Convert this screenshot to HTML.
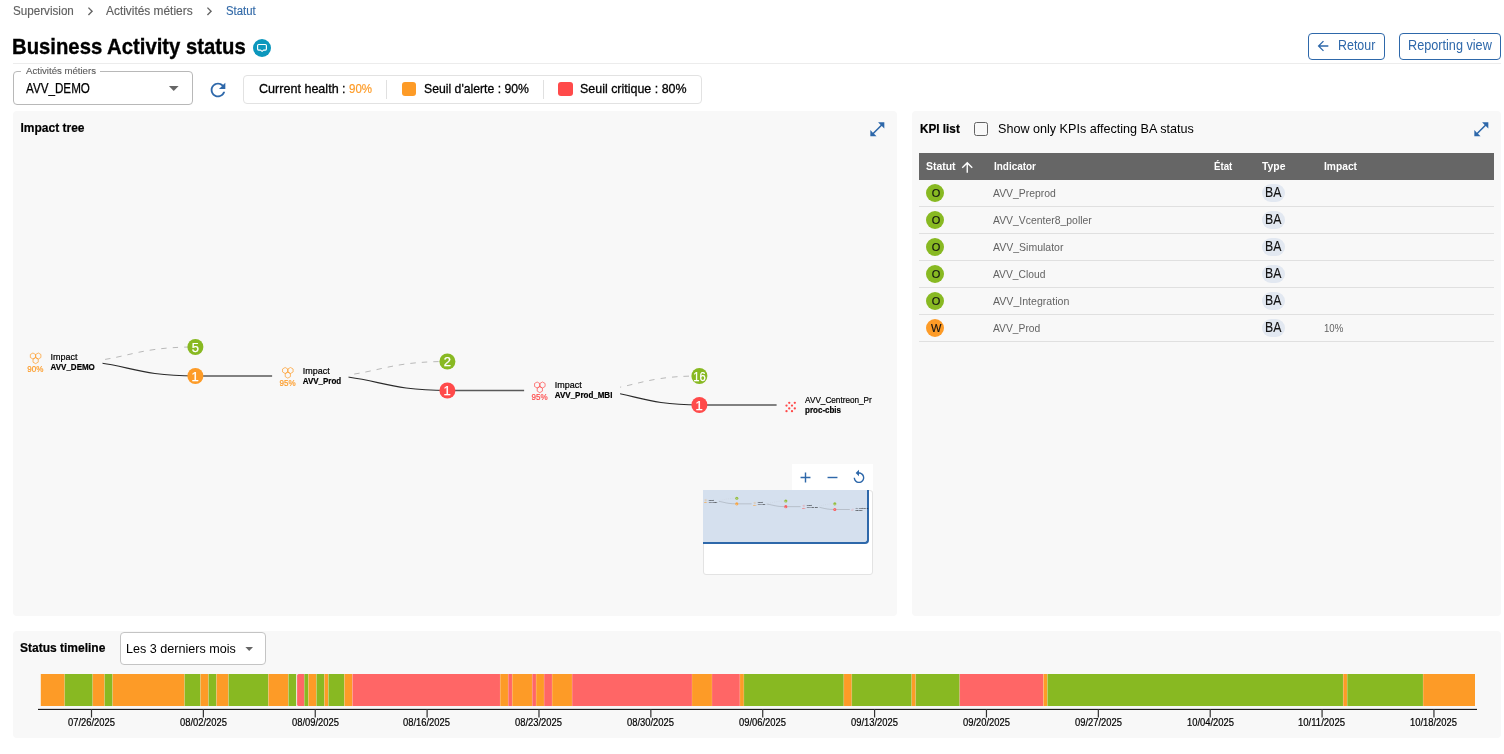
<!DOCTYPE html>
<html lang="fr"><head><meta charset="utf-8"><title>Business Activity status</title>
<style>
html,body{margin:0;padding:0;background:#fff}
body{width:1504px;height:754px;position:relative;overflow:hidden;font-family:"Liberation Sans",Arial,sans-serif}
.b{position:absolute;display:block}
.t{position:absolute;white-space:nowrap;display:block;transform-origin:0 0}
.mini .n{opacity:.55;stroke:none}
.tree text{font-family:"Liberation Sans",Arial,sans-serif}
</style></head>
<body>
<nav aria-label="breadcrumb">
<svg class="b" style="left:81.6px;top:2.6px" width="16.6" height="16.6" viewBox="0 0 24 24"><path d="M10 6L8.59 7.41 13.17 12l-4.58 4.59L10 18l6-6z" fill="#666" /></svg>
<svg class="b" style="left:201.1px;top:2.6px" width="16.6" height="16.6" viewBox="0 0 24 24"><path d="M10 6L8.59 7.41 13.17 12l-4.58 4.59L10 18l6-6z" fill="#666" /></svg>
<span class="t" style="left:13.00px;top:4px;font-size:12px;line-height:14px;color:#606060;transform:scaleX(0.9705);-webkit-text-stroke:0.15px #606060;">Supervision</span>
<span class="t" style="left:106.30px;top:4px;font-size:12px;line-height:14px;color:#606060;transform:scaleX(0.9913);-webkit-text-stroke:0.15px #606060;">Activités métiers</span>
<span class="t" style="left:225.80px;top:4px;font-size:12px;line-height:14px;color:#336aa8;transform:scaleX(0.9461);-webkit-text-stroke:0.15px #336aa8;">Statut</span>
</nav>
<header>
<div class="b" style="left:13px;top:63px;width:1488px;height:1px;background:#ececec"></div>
<div class="b" style="left:1308px;top:33px;width:77px;height:27px;border:1px solid #2e68aa;border-radius:4px;box-sizing:border-box"></div>
<div class="b" style="left:1399px;top:33px;width:102px;height:27px;border:1px solid #2e68aa;border-radius:4px;box-sizing:border-box"></div>
<svg class="b" style="left:253px;top:39px" width="18" height="18" viewBox="0 0 18 18"><circle cx="9" cy="9" r="9" fill="#0c97bd"/><path d="M5.6 5.5h6.8a1 1 0 0 1 1 1v3.6a1 1 0 0 1-1 1h-1.9L9.1 12.4 7.6 11.1H5.6a1 1 0 0 1-1-1V6.5a1 1 0 0 1 1-1z" fill="none" stroke="#fff" stroke-width="1.15" stroke-linejoin="round"/></svg>
<svg class="b" style="left:1315.1px;top:38.1px" width="16" height="16" viewBox="0 0 24 24"><path d="M20 11H7.83l5.59-5.59L12 4l-8 8 8 8 1.41-1.41L7.83 13H20v-2z" fill="#2e68aa" /></svg>
<span class="t" style="left:12.28px;top:34px;font-size:22px;line-height:25px;font-weight:700;transform:scaleX(0.9220);-webkit-text-stroke:0.35px #000;">Business Activity status</span>
<span class="t" style="left:1338.41px;top:37px;font-size:14px;line-height:16px;color:#2e68aa;transform:scaleX(0.8871);">Retour</span>
<span class="t" style="left:1407.90px;top:37px;font-size:14px;line-height:16px;color:#2e68aa;transform:scaleX(0.9049);">Reporting view</span>
</header>
<div class="toolbar">
<div class="b" style="left:13px;top:71px;width:180px;height:34px;border:1px solid #b8b8b8;border-radius:4px;box-sizing:border-box;background:#fff"></div>
<div class="b" style="left:21px;top:70px;width:79px;height:3px;background:#fff"></div>
<div class="b" style="left:243px;top:75px;width:459px;height:29px;border:1px solid #e2e2e2;border-radius:4px;box-sizing:border-box;background:#fff"></div>
<div class="b" style="left:386px;top:80px;width:1px;height:19px;background:#e0e0e0"></div>
<div class="b" style="left:543px;top:80px;width:1px;height:19px;background:#e0e0e0"></div>
<div class="b" style="left:402px;top:82px;width:14px;height:14px;background:#fd9b27;border-radius:3px"></div>
<div class="b" style="left:558px;top:82px;width:15px;height:14px;background:#ff4a4a;border-radius:3px"></div>
<svg class="b" style="left:168px;top:85px" width="12" height="8" viewBox="0 0 12 8"><path d="M0.9 1.1h9.7L5.75 5.9z" fill="#666"/></svg>
<svg class="b" style="left:206.9px;top:78.5px" width="22" height="22" viewBox="0 0 24 24"><path d="M17.65 6.35C16.2 4.9 14.21 4 12 4c-4.42 0-7.99 3.58-7.99 8s3.57 8 7.99 8c3.73 0 6.84-2.55 7.73-6h-2.08c-.82 2.33-3.04 4-5.65 4-3.31 0-6-2.69-6-6s2.69-6 6-6c1.66 0 3.14.69 4.22 1.78L13 11h7V4z" fill="#2e68aa" /></svg>
<span class="t" style="left:25.80px;top:65px;font-size:9.75px;line-height:11px;color:#5c5c5c;transform:scaleX(0.9858);-webkit-text-stroke:0.12px #5c5c5c;">Activités métiers</span>
<span class="t" style="left:25.80px;top:80px;font-size:14px;line-height:16px;transform:scaleX(0.8325);-webkit-text-stroke:0.25px #000;">AVV_DEMO</span>
<span class="t" style="left:258.80px;top:81px;font-size:13.6px;line-height:15px;transform:scaleX(0.9244);-webkit-text-stroke:0.3px currentColor;">Current health :</span>
<span class="t" style="left:348.50px;top:81px;font-size:13.6px;line-height:15px;color:#fd9b27;transform:scaleX(0.8477);-webkit-text-stroke:0.2px currentColor;">90%</span>
<span class="t" style="left:423.60px;top:81px;font-size:13.6px;line-height:15px;transform:scaleX(0.8995);-webkit-text-stroke:0.3px currentColor;">Seuil d&#x27;alerte : 90%</span>
<span class="t" style="left:580.30px;top:81px;font-size:13.6px;line-height:15px;transform:scaleX(0.9158);-webkit-text-stroke:0.3px currentColor;">Seuil critique : 80%</span>
</div>
<section aria-label="Impact tree">
<div class="b" style="left:13px;top:111px;width:884px;height:505px;background:#f8f8f8;border-radius:4px"></div>
<svg class="b" style="left:867.6px;top:119.65px" width="18.67" height="18.67" viewBox="0 0 24 24"><path d="M21 11V3h-8l3.29 3.29-10 10L3 13v8h8l-3.29-3.29 10-10z" fill="#2e68aa" /></svg>
<div class="b" style="left:792px;top:464px;width:81px;height:26.5px;background:#fff"></div>
<svg class="b" style="left:796.5px;top:468.5px" width="17" height="17" viewBox="0 0 24 24"><path d="M19 13h-6v6h-2v-6H5v-2h6V5h2v6h6v2z" fill="#2e68aa" /></svg>
<svg class="b" style="left:823.5px;top:468.5px" width="17" height="17" viewBox="0 0 24 24"><path d="M19 13H5v-2h14v2z" fill="#2e68aa" /></svg>
<svg class="b" style="left:851.4px;top:469.3px" width="16" height="16" viewBox="0 0 24 24"><path d="M12 5V1L7 6l5 5V7c3.31 0 6 2.69 6 6s-2.69 6-6 6-6-2.69-6-6H4c0 4.42 3.58 8 8 8s8-3.58 8-8-3.58-8-8-8z" fill="#2e68aa" /></svg>
<svg class="b tree" style="left:0;top:0" width="872.8" height="616" viewBox="0 0 872.8 616"><path d="M59.0 362.7C127.2 362.7 127.2 347.0 195.4 347.0" fill="none" stroke="#b9b9b9" stroke-width="1" stroke-dasharray="5.5 6"/><path d="M59.0 360.3C127.2 360.3 127.2 376.0 195.4 376.0" fill="none" stroke="#2a2a2a" stroke-width="1.1"/><rect x="20.0" y="349.0" width="82.5" height="26" fill="#f8f8f8"/><path d="M202.4 376.0H272.6" stroke="#5a5a5a" stroke-width="1.5"/><path d="M32.95 353.00L35.55 354.50L35.55 357.50L32.95 359.00L30.35 357.50L30.35 354.50Z" fill="none" stroke="#fd9b27" stroke-width="0.7"/><path d="M38.30 353.00L40.90 354.50L40.90 357.50L38.30 359.00L35.70 357.50L35.70 354.50Z" fill="none" stroke="#fd9b27" stroke-width="0.7"/><path d="M35.62 357.65L38.22 359.15L38.22 362.15L35.62 363.65L33.02 362.15L33.02 359.15Z" fill="none" stroke="#fd9b27" stroke-width="0.7"/><text transform="translate(27.30 371.80) scale(0.8050 0.93)" font-size="10" fill="#fd9b27" stroke="#fd9b27" stroke-width="0.22">90%</text><text transform="translate(50.60 359.90) scale(0.8995 0.93)" font-size="10" fill="#000" stroke="#000" stroke-width="0.22">Impact</text><text transform="translate(50.60 369.80) scale(0.8002 0.93)" font-size="10" font-weight="700" fill="#000" stroke="#000" stroke-width="0.22">AVV_DEMO</text><circle cx="195.4" cy="347.0" r="8" fill="#88b922"/><circle cx="195.4" cy="376.0" r="8" fill="#fd9b27"/><text x="195.4" y="351.6" class="n" font-size="13" fill="#fff" stroke="#fff" stroke-width="0.25" text-anchor="middle">5</text><text x="195.0" y="380.6" class="n" font-size="13" fill="#fff" stroke="#fff" stroke-width="0.25" text-anchor="middle">1</text><path d="M308.1 377.2C377.8 377.2 377.8 361.5 447.4 361.5" fill="none" stroke="#b9b9b9" stroke-width="1" stroke-dasharray="5.5 6"/><path d="M308.1 374.8C377.8 374.8 377.8 390.5 447.4 390.5" fill="none" stroke="#2a2a2a" stroke-width="1.1"/><rect x="272.2" y="363.5" width="76.3" height="26" fill="#f8f8f8"/><path d="M454.4 390.5H524.6" stroke="#5a5a5a" stroke-width="1.5"/><path d="M285.15 367.50L287.75 369.00L287.75 372.00L285.15 373.50L282.55 372.00L282.55 369.00Z" fill="none" stroke="#fd9b27" stroke-width="0.7"/><path d="M290.50 367.50L293.10 369.00L293.10 372.00L290.50 373.50L287.90 372.00L287.90 369.00Z" fill="none" stroke="#fd9b27" stroke-width="0.7"/><path d="M287.82 372.15L290.42 373.65L290.42 376.65L287.82 378.15L285.22 376.65L285.22 373.65Z" fill="none" stroke="#fd9b27" stroke-width="0.7"/><text transform="translate(279.50 385.90) scale(0.8050 0.93)" font-size="10" fill="#fd9b27" stroke="#fd9b27" stroke-width="0.22">95%</text><text transform="translate(302.80 374.00) scale(0.8995 0.93)" font-size="10" fill="#000" stroke="#000" stroke-width="0.22">Impact</text><text transform="translate(302.80 383.90) scale(0.7969 0.93)" font-size="10" font-weight="700" fill="#000" stroke="#000" stroke-width="0.22">AVV_Prod</text><circle cx="447.4" cy="361.5" r="8" fill="#88b922"/><circle cx="447.4" cy="390.5" r="8" fill="#ff4a4a"/><text x="447.4" y="366.1" class="n" font-size="13" fill="#fff" stroke="#fff" stroke-width="0.25" text-anchor="middle">2</text><text x="447.0" y="395.1" class="n" font-size="13" fill="#fff" stroke="#fff" stroke-width="0.25" text-anchor="middle">1</text><path d="M569.9 391.7C634.7 391.7 634.7 376.0 699.4 376.0" fill="none" stroke="#b9b9b9" stroke-width="1" stroke-dasharray="5.5 6"/><path d="M569.9 389.3C634.7 389.3 634.7 405.0 699.4 405.0" fill="none" stroke="#2a2a2a" stroke-width="1.1"/><rect x="524.2" y="378.0" width="95.9" height="26" fill="#f8f8f8"/><path d="M706.4 405.0H776.6" stroke="#5a5a5a" stroke-width="1.5"/><path d="M537.15 382.00L539.75 383.50L539.75 386.50L537.15 388.00L534.55 386.50L534.55 383.50Z" fill="none" stroke="#ff4a4a" stroke-width="0.7"/><path d="M542.50 382.00L545.10 383.50L545.10 386.50L542.50 388.00L539.90 386.50L539.90 383.50Z" fill="none" stroke="#ff4a4a" stroke-width="0.7"/><path d="M539.82 386.65L542.42 388.15L542.42 391.15L539.82 392.65L537.22 391.15L537.22 388.15Z" fill="none" stroke="#ff4a4a" stroke-width="0.7"/><text transform="translate(531.50 400.00) scale(0.8050 0.93)" font-size="10" fill="#ff4a4a" stroke="#ff4a4a" stroke-width="0.22">95%</text><text transform="translate(554.80 388.10) scale(0.8995 0.93)" font-size="10" fill="#000" stroke="#000" stroke-width="0.22">Impact</text><text transform="translate(554.80 398.00) scale(0.8010 0.93)" font-size="10" font-weight="700" fill="#000" stroke="#000" stroke-width="0.22">AVV_Prod_MBI</text><circle cx="699.4" cy="376.0" r="8" fill="#88b922"/><circle cx="699.4" cy="405.0" r="8" fill="#ff4a4a"/><text x="699.4" y="380.6" class="n" font-size="13" fill="#fff" stroke="#fff" stroke-width="0.25" text-anchor="middle" textLength="12.4" lengthAdjust="spacingAndGlyphs">16</text><text x="699.0" y="409.6" class="n" font-size="13" fill="#fff" stroke="#fff" stroke-width="0.25" text-anchor="middle">1</text><circle cx="789.25" cy="402.8" r="1.15" fill="#ff4a4a"/><circle cx="794.8" cy="402.8" r="1.15" fill="#ff4a4a"/><circle cx="786.5" cy="405.6" r="1.15" fill="#ff4a4a"/><circle cx="792.0" cy="405.6" r="1.15" fill="#ff4a4a"/><circle cx="789.25" cy="408.4" r="1.15" fill="#ff4a4a"/><circle cx="794.8" cy="408.4" r="1.15" fill="#ff4a4a"/><circle cx="786.5" cy="411.2" r="1.15" fill="#ff4a4a"/><circle cx="792.0" cy="411.2" r="1.15" fill="#ff4a4a"/><text transform="translate(805.10 402.60) scale(0.8187 0.93)" font-size="10" fill="#000" stroke="#000" stroke-width="0.22">AVV_Centreon_Pr</text><text transform="translate(805.10 413.00) scale(0.7986 0.93)" font-size="10" font-weight="700" fill="#000" stroke="#000" stroke-width="0.22">proc-cbis</text></svg>
<div class="b" style="left:702.5px;top:490px;width:170px;height:85.4px;background:#fff;border:1px solid #e3e3e3;border-radius:3px;box-sizing:border-box"></div>
<div class="b" style="left:702.5px;top:490px;width:166.5px;height:53.7px;background:#d5e0ee;border-right:2px solid #2e68aa;border-bottom:2px solid #2e68aa;border-radius:0 0 4px 0;box-sizing:border-box"></div>
<svg class="b tree mini" style="left:702.6px;top:490.2px;opacity:.85" width="166" height="52" viewBox="21.6 304.8 853.5 267.4"><path d="M59.0 362.7C127.2 362.7 127.2 347.0 195.4 347.0" fill="none" stroke="#b9b9b9" stroke-width="1" stroke-dasharray="5.5 6"/><path d="M59.0 360.3C127.2 360.3 127.2 376.0 195.4 376.0" fill="none" stroke="#2a2a2a" stroke-width="1.1"/><rect x="20.0" y="349.0" width="82.5" height="26" fill="#d5e0ee"/><path d="M202.4 376.0H272.6" stroke="#5a5a5a" stroke-width="1.5"/><path d="M32.95 353.00L35.55 354.50L35.55 357.50L32.95 359.00L30.35 357.50L30.35 354.50Z" fill="none" stroke="#fd9b27" stroke-width="0.7"/><path d="M38.30 353.00L40.90 354.50L40.90 357.50L38.30 359.00L35.70 357.50L35.70 354.50Z" fill="none" stroke="#fd9b27" stroke-width="0.7"/><path d="M35.62 357.65L38.22 359.15L38.22 362.15L35.62 363.65L33.02 362.15L33.02 359.15Z" fill="none" stroke="#fd9b27" stroke-width="0.7"/><text transform="translate(27.30 371.80) scale(0.8050 0.93)" font-size="10" fill="#fd9b27" stroke="#fd9b27" stroke-width="0.22">90%</text><text transform="translate(50.60 359.90) scale(0.8995 0.93)" font-size="10" fill="#000" stroke="#000" stroke-width="0.22">Impact</text><text transform="translate(50.60 369.80) scale(0.8002 0.93)" font-size="10" font-weight="700" fill="#000" stroke="#000" stroke-width="0.22">AVV_DEMO</text><circle cx="195.4" cy="347.0" r="8" fill="#88b922"/><circle cx="195.4" cy="376.0" r="8" fill="#fd9b27"/><text x="195.4" y="351.6" class="n" font-size="13" fill="#fff" stroke="#fff" stroke-width="0.25" text-anchor="middle">5</text><text x="195.0" y="380.6" class="n" font-size="13" fill="#fff" stroke="#fff" stroke-width="0.25" text-anchor="middle">1</text><path d="M308.1 377.2C377.8 377.2 377.8 361.5 447.4 361.5" fill="none" stroke="#b9b9b9" stroke-width="1" stroke-dasharray="5.5 6"/><path d="M308.1 374.8C377.8 374.8 377.8 390.5 447.4 390.5" fill="none" stroke="#2a2a2a" stroke-width="1.1"/><rect x="272.2" y="363.5" width="76.3" height="26" fill="#d5e0ee"/><path d="M454.4 390.5H524.6" stroke="#5a5a5a" stroke-width="1.5"/><path d="M285.15 367.50L287.75 369.00L287.75 372.00L285.15 373.50L282.55 372.00L282.55 369.00Z" fill="none" stroke="#fd9b27" stroke-width="0.7"/><path d="M290.50 367.50L293.10 369.00L293.10 372.00L290.50 373.50L287.90 372.00L287.90 369.00Z" fill="none" stroke="#fd9b27" stroke-width="0.7"/><path d="M287.82 372.15L290.42 373.65L290.42 376.65L287.82 378.15L285.22 376.65L285.22 373.65Z" fill="none" stroke="#fd9b27" stroke-width="0.7"/><text transform="translate(279.50 385.90) scale(0.8050 0.93)" font-size="10" fill="#fd9b27" stroke="#fd9b27" stroke-width="0.22">95%</text><text transform="translate(302.80 374.00) scale(0.8995 0.93)" font-size="10" fill="#000" stroke="#000" stroke-width="0.22">Impact</text><text transform="translate(302.80 383.90) scale(0.7969 0.93)" font-size="10" font-weight="700" fill="#000" stroke="#000" stroke-width="0.22">AVV_Prod</text><circle cx="447.4" cy="361.5" r="8" fill="#88b922"/><circle cx="447.4" cy="390.5" r="8" fill="#ff4a4a"/><text x="447.4" y="366.1" class="n" font-size="13" fill="#fff" stroke="#fff" stroke-width="0.25" text-anchor="middle">2</text><text x="447.0" y="395.1" class="n" font-size="13" fill="#fff" stroke="#fff" stroke-width="0.25" text-anchor="middle">1</text><path d="M569.9 391.7C634.7 391.7 634.7 376.0 699.4 376.0" fill="none" stroke="#b9b9b9" stroke-width="1" stroke-dasharray="5.5 6"/><path d="M569.9 389.3C634.7 389.3 634.7 405.0 699.4 405.0" fill="none" stroke="#2a2a2a" stroke-width="1.1"/><rect x="524.2" y="378.0" width="95.9" height="26" fill="#d5e0ee"/><path d="M706.4 405.0H776.6" stroke="#5a5a5a" stroke-width="1.5"/><path d="M537.15 382.00L539.75 383.50L539.75 386.50L537.15 388.00L534.55 386.50L534.55 383.50Z" fill="none" stroke="#ff4a4a" stroke-width="0.7"/><path d="M542.50 382.00L545.10 383.50L545.10 386.50L542.50 388.00L539.90 386.50L539.90 383.50Z" fill="none" stroke="#ff4a4a" stroke-width="0.7"/><path d="M539.82 386.65L542.42 388.15L542.42 391.15L539.82 392.65L537.22 391.15L537.22 388.15Z" fill="none" stroke="#ff4a4a" stroke-width="0.7"/><text transform="translate(531.50 400.00) scale(0.8050 0.93)" font-size="10" fill="#ff4a4a" stroke="#ff4a4a" stroke-width="0.22">95%</text><text transform="translate(554.80 388.10) scale(0.8995 0.93)" font-size="10" fill="#000" stroke="#000" stroke-width="0.22">Impact</text><text transform="translate(554.80 398.00) scale(0.8010 0.93)" font-size="10" font-weight="700" fill="#000" stroke="#000" stroke-width="0.22">AVV_Prod_MBI</text><circle cx="699.4" cy="376.0" r="8" fill="#88b922"/><circle cx="699.4" cy="405.0" r="8" fill="#ff4a4a"/><text x="699.4" y="380.6" class="n" font-size="13" fill="#fff" stroke="#fff" stroke-width="0.25" text-anchor="middle" textLength="12.4" lengthAdjust="spacingAndGlyphs">16</text><text x="699.0" y="409.6" class="n" font-size="13" fill="#fff" stroke="#fff" stroke-width="0.25" text-anchor="middle">1</text><circle cx="789.25" cy="402.8" r="1.15" fill="#ff4a4a"/><circle cx="794.8" cy="402.8" r="1.15" fill="#ff4a4a"/><circle cx="786.5" cy="405.6" r="1.15" fill="#ff4a4a"/><circle cx="792.0" cy="405.6" r="1.15" fill="#ff4a4a"/><circle cx="789.25" cy="408.4" r="1.15" fill="#ff4a4a"/><circle cx="794.8" cy="408.4" r="1.15" fill="#ff4a4a"/><circle cx="786.5" cy="411.2" r="1.15" fill="#ff4a4a"/><circle cx="792.0" cy="411.2" r="1.15" fill="#ff4a4a"/><text transform="translate(805.10 402.60) scale(0.8187 0.93)" font-size="10" fill="#000" stroke="#000" stroke-width="0.22">AVV_Centreon_Pr</text><text transform="translate(805.10 413.00) scale(0.7986 0.93)" font-size="10" font-weight="700" fill="#000" stroke="#000" stroke-width="0.22">proc-cbis</text></svg>
<span class="t" style="left:20.50px;top:121px;font-size:12px;line-height:14px;font-weight:700;-webkit-text-stroke:0.2px #000;">Impact tree</span>
</section>
<section aria-label="KPI list">
<div class="b" style="left:912px;top:111px;width:589px;height:505px;background:#f8f8f8;border-radius:4px"></div>
<div class="b" style="left:974px;top:122px;width:14px;height:14px;border:1.7px solid #636363;border-radius:2.5px;box-sizing:border-box"></div>
<div class="b" style="left:919px;top:153px;width:575px;height:27px;background:#666"></div>
<div class="b" style="left:919px;top:206px;width:575px;height:1px;background:#e0e0e0"></div>
<div class="b" style="left:926px;top:184px;width:18px;height:18px;background:#88b922;border-radius:50%"></div>
<div class="b" style="left:1262px;top:184px;width:23.4px;height:18.4px;background:#e2e8f1;border-radius:9px"></div>
<div class="b" style="left:919px;top:233px;width:575px;height:1px;background:#e0e0e0"></div>
<div class="b" style="left:926px;top:211px;width:18px;height:18px;background:#88b922;border-radius:50%"></div>
<div class="b" style="left:1262px;top:211px;width:23.4px;height:18.4px;background:#e2e8f1;border-radius:9px"></div>
<div class="b" style="left:919px;top:260px;width:575px;height:1px;background:#e0e0e0"></div>
<div class="b" style="left:926px;top:238px;width:18px;height:18px;background:#88b922;border-radius:50%"></div>
<div class="b" style="left:1262px;top:238px;width:23.4px;height:18.4px;background:#e2e8f1;border-radius:9px"></div>
<div class="b" style="left:919px;top:287px;width:575px;height:1px;background:#e0e0e0"></div>
<div class="b" style="left:926px;top:265px;width:18px;height:18px;background:#88b922;border-radius:50%"></div>
<div class="b" style="left:1262px;top:265px;width:23.4px;height:18.4px;background:#e2e8f1;border-radius:9px"></div>
<div class="b" style="left:919px;top:314px;width:575px;height:1px;background:#e0e0e0"></div>
<div class="b" style="left:926px;top:292px;width:18px;height:18px;background:#88b922;border-radius:50%"></div>
<div class="b" style="left:1262px;top:292px;width:23.4px;height:18.4px;background:#e2e8f1;border-radius:9px"></div>
<div class="b" style="left:919px;top:341px;width:575px;height:1px;background:#e0e0e0"></div>
<div class="b" style="left:926px;top:319px;width:18px;height:18px;background:#fd9b27;border-radius:50%"></div>
<div class="b" style="left:1262px;top:319px;width:23.4px;height:18.4px;background:#e2e8f1;border-radius:9px"></div>
<svg class="b" style="left:1472.0px;top:119.65px" width="18.67" height="18.67" viewBox="0 0 24 24"><path d="M21 11V3h-8l3.29 3.29-10 10L3 13v8h8l-3.29-3.29 10-10z" fill="#2e68aa" /></svg>
<svg class="b" style="left:958.95px;top:159.4px" width="16.5" height="16.5" viewBox="0 0 24 24"><path d="M4 12l1.41 1.41L11 7.83V20h2V7.83l5.58 5.59L20 12l-8-8-8 8z" fill="#fff" /></svg>
<span class="t" style="left:919.60px;top:122px;font-size:12px;line-height:14px;font-weight:700;transform:scaleX(0.9781);-webkit-text-stroke:0.2px #000;">KPI list</span>
<span class="t" style="left:998.30px;top:121px;font-size:13px;line-height:15px;transform:scaleX(0.9689);">Show only KPIs affecting BA status</span>
<span class="t" style="left:925.90px;top:160px;font-size:11px;line-height:12px;font-weight:700;color:#fff;transform:scaleX(0.9489);">Statut</span>
<span class="t" style="left:993.50px;top:160px;font-size:11px;line-height:12px;font-weight:700;color:#fff;transform:scaleX(0.9031);">Indicator</span>
<span class="t" style="left:1214.30px;top:160px;font-size:11px;line-height:12px;font-weight:700;color:#fff;transform:scaleX(0.8808);">État</span>
<span class="t" style="left:1262.40px;top:160px;font-size:11px;line-height:12px;font-weight:700;color:#fff;transform:scaleX(0.9458);">Type</span>
<span class="t" style="left:1323.60px;top:160px;font-size:11px;line-height:12px;font-weight:700;color:#fff;transform:scaleX(0.9300);">Impact</span>
<span class="t" style="left:931.80px;top:187px;font-size:11px;line-height:12px;color:#111;-webkit-text-stroke:0.15px #111;">O</span>
<span class="t" style="left:993.30px;top:187px;font-size:11px;line-height:12px;color:#636363;transform:scaleX(0.9467);">AVV_Preprod</span>
<span class="t" style="left:1265.02px;top:184px;font-size:14px;line-height:16px;color:#111;transform:scaleX(0.8774);-webkit-text-stroke:0.12px #111;">BA</span>
<span class="t" style="left:931.80px;top:214px;font-size:11px;line-height:12px;color:#111;-webkit-text-stroke:0.15px #111;">O</span>
<span class="t" style="left:993.30px;top:214px;font-size:11px;line-height:12px;color:#636363;transform:scaleX(0.9464);">AVV_Vcenter8_poller</span>
<span class="t" style="left:1265.02px;top:211px;font-size:14px;line-height:16px;color:#111;transform:scaleX(0.8774);-webkit-text-stroke:0.12px #111;">BA</span>
<span class="t" style="left:931.80px;top:241px;font-size:11px;line-height:12px;color:#111;-webkit-text-stroke:0.15px #111;">O</span>
<span class="t" style="left:993.30px;top:241px;font-size:11px;line-height:12px;color:#636363;transform:scaleX(0.9552);">AVV_Simulator</span>
<span class="t" style="left:1265.02px;top:238px;font-size:14px;line-height:16px;color:#111;transform:scaleX(0.8774);-webkit-text-stroke:0.12px #111;">BA</span>
<span class="t" style="left:931.80px;top:268px;font-size:11px;line-height:12px;color:#111;-webkit-text-stroke:0.15px #111;">O</span>
<span class="t" style="left:993.30px;top:268px;font-size:11px;line-height:12px;color:#636363;transform:scaleX(0.9349);">AVV_Cloud</span>
<span class="t" style="left:1265.02px;top:265px;font-size:14px;line-height:16px;color:#111;transform:scaleX(0.8774);-webkit-text-stroke:0.12px #111;">BA</span>
<span class="t" style="left:931.80px;top:295px;font-size:11px;line-height:12px;color:#111;-webkit-text-stroke:0.15px #111;">O</span>
<span class="t" style="left:993.30px;top:295px;font-size:11px;line-height:12px;color:#636363;transform:scaleX(0.9624);">AVV_Integration</span>
<span class="t" style="left:1265.02px;top:292px;font-size:14px;line-height:16px;color:#111;transform:scaleX(0.8774);-webkit-text-stroke:0.12px #111;">BA</span>
<span class="t" style="left:930.90px;top:322px;font-size:11px;line-height:12px;color:#111;-webkit-text-stroke:0.15px #111;">W</span>
<span class="t" style="left:993.30px;top:322px;font-size:11px;line-height:12px;color:#636363;transform:scaleX(0.9357);">AVV_Prod</span>
<span class="t" style="left:1265.02px;top:319px;font-size:14px;line-height:16px;color:#111;transform:scaleX(0.8774);-webkit-text-stroke:0.12px #111;">BA</span>
<span class="t" style="left:1323.80px;top:322px;font-size:11px;line-height:12px;color:#636363;transform:scaleX(0.8764);">10%</span>
</section>
<section aria-label="Status timeline">
<div class="b" style="left:13px;top:631px;width:1488px;height:107px;background:#f8f8f8;border-radius:4px"></div>
<div class="b" style="left:120px;top:632px;width:146px;height:33px;border:1px solid #c4c4c4;border-radius:4px;box-sizing:border-box;background:#fff"></div>
<svg class="b" style="left:0;top:0" width="1504" height="754" viewBox="0 0 1504 754"><rect x="40.8" y="674" width="23.9" height="32" fill="#fd9b27"/><rect x="64.7" y="674" width="28.0" height="32" fill="#88b922"/><rect x="92.7" y="674" width="11.9" height="32" fill="#fd9b27"/><rect x="104.6" y="674" width="8.0" height="32" fill="#88b922"/><rect x="112.6" y="674" width="72.0" height="32" fill="#fd9b27"/><rect x="184.6" y="674" width="15.9" height="32" fill="#88b922"/><rect x="200.5" y="674" width="8.0" height="32" fill="#fd9b27"/><rect x="208.5" y="674" width="8.0" height="32" fill="#88b922"/><rect x="216.5" y="674" width="12.0" height="32" fill="#fd9b27"/><rect x="228.5" y="674" width="39.9" height="32" fill="#88b922"/><rect x="268.4" y="674" width="20.0" height="32" fill="#fd9b27"/><rect x="288.4" y="674" width="8.2" height="32" fill="#88b922"/><rect x="296.4" y="674" width="3" height="32" fill="#f8f8f8"/><rect x="297.1" y="674" width="7.2" height="32" rx="1.6" fill="#ff6666"/><rect x="299.6" y="674" width="4.7" height="32" fill="#ff6666"/><rect x="304.3" y="674" width="4.1" height="32" fill="#88b922"/><rect x="308.4" y="674" width="8.0" height="32" fill="#fd9b27"/><rect x="316.4" y="674" width="8.0" height="32" fill="#88b922"/><rect x="324.4" y="674" width="4.0" height="32" fill="#fd9b27"/><rect x="328.4" y="674" width="16.0" height="32" fill="#88b922"/><rect x="344.4" y="674" width="8.0" height="32" fill="#fd9b27"/><rect x="352.4" y="674" width="147.8" height="32" fill="#ff6666"/><rect x="500.2" y="674" width="8.0" height="32" fill="#fd9b27"/><rect x="508.2" y="674" width="4.0" height="32" fill="#ff6666"/><rect x="512.2" y="674" width="20.0" height="32" fill="#fd9b27"/><rect x="532.2" y="674" width="3.9" height="32" fill="#ff6666"/><rect x="536.1" y="674" width="8.0" height="32" fill="#fd9b27"/><rect x="544.1" y="674" width="8.0" height="32" fill="#ff6666"/><rect x="552.1" y="674" width="20.0" height="32" fill="#fd9b27"/><rect x="572.1" y="674" width="119.9" height="32" fill="#ff6666"/><rect x="692.0" y="674" width="20.0" height="32" fill="#fd9b27"/><rect x="712.0" y="674" width="27.9" height="32" fill="#ff6666"/><rect x="739.9" y="674" width="4.0" height="32" fill="#fd9b27"/><rect x="743.9" y="674" width="99.9" height="32" fill="#88b922"/><rect x="843.8" y="674" width="8.0" height="32" fill="#fd9b27"/><rect x="851.8" y="674" width="59.9" height="32" fill="#88b922"/><rect x="911.7" y="674" width="4.0" height="32" fill="#fd9b27"/><rect x="915.7" y="674" width="44.0" height="32" fill="#88b922"/><rect x="959.7" y="674" width="83.7" height="32" fill="#ff6666"/><rect x="1043.4" y="674" width="4.0" height="32" fill="#fd9b27"/><rect x="1047.4" y="674" width="295.8" height="32" fill="#88b922"/><rect x="1343.2" y="674" width="4.0" height="32" fill="#fd9b27"/><rect x="1347.2" y="674" width="75.9" height="32" fill="#88b922"/><rect x="1423.1" y="674" width="51.9" height="32" fill="#fd9b27"/><rect x="64.35" y="674" width="0.7" height="32" fill="#fff" fill-opacity="0.22"/><rect x="92.35" y="674" width="0.7" height="32" fill="#fff" fill-opacity="0.22"/><rect x="104.25" y="674" width="0.7" height="32" fill="#fff" fill-opacity="0.22"/><rect x="112.25" y="674" width="0.7" height="32" fill="#fff" fill-opacity="0.22"/><rect x="184.25" y="674" width="0.7" height="32" fill="#fff" fill-opacity="0.22"/><rect x="200.15" y="674" width="0.7" height="32" fill="#fff" fill-opacity="0.22"/><rect x="208.15" y="674" width="0.7" height="32" fill="#fff" fill-opacity="0.22"/><rect x="216.15" y="674" width="0.7" height="32" fill="#fff" fill-opacity="0.22"/><rect x="228.15" y="674" width="0.7" height="32" fill="#fff" fill-opacity="0.22"/><rect x="268.05" y="674" width="0.7" height="32" fill="#fff" fill-opacity="0.22"/><rect x="288.05" y="674" width="0.7" height="32" fill="#fff" fill-opacity="0.22"/><rect x="296.25" y="674" width="0.7" height="32" fill="#fff" fill-opacity="0.22"/><rect x="303.95" y="674" width="0.7" height="32" fill="#fff" fill-opacity="0.22"/><rect x="308.05" y="674" width="0.7" height="32" fill="#fff" fill-opacity="0.22"/><rect x="316.05" y="674" width="0.7" height="32" fill="#fff" fill-opacity="0.22"/><rect x="324.05" y="674" width="0.7" height="32" fill="#fff" fill-opacity="0.22"/><rect x="328.05" y="674" width="0.7" height="32" fill="#fff" fill-opacity="0.22"/><rect x="344.05" y="674" width="0.7" height="32" fill="#fff" fill-opacity="0.22"/><rect x="352.05" y="674" width="0.7" height="32" fill="#fff" fill-opacity="0.22"/><rect x="499.85" y="674" width="0.7" height="32" fill="#fff" fill-opacity="0.22"/><rect x="507.85" y="674" width="0.7" height="32" fill="#fff" fill-opacity="0.22"/><rect x="511.85" y="674" width="0.7" height="32" fill="#fff" fill-opacity="0.22"/><rect x="531.85" y="674" width="0.7" height="32" fill="#fff" fill-opacity="0.22"/><rect x="535.75" y="674" width="0.7" height="32" fill="#fff" fill-opacity="0.22"/><rect x="543.75" y="674" width="0.7" height="32" fill="#fff" fill-opacity="0.22"/><rect x="551.75" y="674" width="0.7" height="32" fill="#fff" fill-opacity="0.22"/><rect x="571.75" y="674" width="0.7" height="32" fill="#fff" fill-opacity="0.22"/><rect x="691.65" y="674" width="0.7" height="32" fill="#fff" fill-opacity="0.22"/><rect x="711.65" y="674" width="0.7" height="32" fill="#fff" fill-opacity="0.22"/><rect x="739.55" y="674" width="0.7" height="32" fill="#fff" fill-opacity="0.22"/><rect x="743.55" y="674" width="0.7" height="32" fill="#fff" fill-opacity="0.22"/><rect x="843.45" y="674" width="0.7" height="32" fill="#fff" fill-opacity="0.22"/><rect x="851.45" y="674" width="0.7" height="32" fill="#fff" fill-opacity="0.22"/><rect x="911.35" y="674" width="0.7" height="32" fill="#fff" fill-opacity="0.22"/><rect x="915.35" y="674" width="0.7" height="32" fill="#fff" fill-opacity="0.22"/><rect x="959.35" y="674" width="0.7" height="32" fill="#fff" fill-opacity="0.22"/><rect x="1043.05" y="674" width="0.7" height="32" fill="#fff" fill-opacity="0.22"/><rect x="1047.05" y="674" width="0.7" height="32" fill="#fff" fill-opacity="0.22"/><rect x="1342.85" y="674" width="0.7" height="32" fill="#fff" fill-opacity="0.22"/><rect x="1346.85" y="674" width="0.7" height="32" fill="#fff" fill-opacity="0.22"/><rect x="1422.75" y="674" width="0.7" height="32" fill="#fff" fill-opacity="0.22"/><rect x="38" y="708.85" width="1439" height="1.15" fill="#1c1c1c"/><rect x="90.90" y="709" width="1.2" height="8.5" fill="#333"/><rect x="202.77" y="709" width="1.2" height="8.5" fill="#333"/><rect x="314.64" y="709" width="1.2" height="8.5" fill="#333"/><rect x="426.51" y="709" width="1.2" height="8.5" fill="#333"/><rect x="538.38" y="709" width="1.2" height="8.5" fill="#333"/><rect x="650.25" y="709" width="1.2" height="8.5" fill="#333"/><rect x="762.12" y="709" width="1.2" height="8.5" fill="#333"/><rect x="873.99" y="709" width="1.2" height="8.5" fill="#333"/><rect x="985.86" y="709" width="1.2" height="8.5" fill="#333"/><rect x="1097.73" y="709" width="1.2" height="8.5" fill="#333"/><rect x="1209.60" y="709" width="1.2" height="8.5" fill="#333"/><rect x="1321.47" y="709" width="1.2" height="8.5" fill="#333"/><rect x="1433.34" y="709" width="1.2" height="8.5" fill="#333"/></svg>
<svg class="b" style="left:244px;top:646px" width="12" height="8" viewBox="0 0 12 8"><path d="M1.4 1h7.6L5.2 5z" fill="#666"/></svg>
<span class="t" style="left:20.00px;top:641px;font-size:12px;line-height:14px;font-weight:700;-webkit-text-stroke:0.2px #000;">Status timeline</span>
<span class="t" style="left:126.33px;top:641px;font-size:13px;line-height:15px;transform:scaleX(0.9685);">Les 3 derniers mois</span>
<span class="t" style="left:67.80px;top:717px;font-size:10px;line-height:11px;transform:scaleX(0.9386);-webkit-text-stroke:0.2px #000;">07/26/2025</span>
<span class="t" style="left:179.67px;top:717px;font-size:10px;line-height:11px;transform:scaleX(0.9386);-webkit-text-stroke:0.2px #000;">08/02/2025</span>
<span class="t" style="left:291.54px;top:717px;font-size:10px;line-height:11px;transform:scaleX(0.9386);-webkit-text-stroke:0.2px #000;">08/09/2025</span>
<span class="t" style="left:403.41px;top:717px;font-size:10px;line-height:11px;transform:scaleX(0.9386);-webkit-text-stroke:0.2px #000;">08/16/2025</span>
<span class="t" style="left:515.28px;top:717px;font-size:10px;line-height:11px;transform:scaleX(0.9386);-webkit-text-stroke:0.2px #000;">08/23/2025</span>
<span class="t" style="left:627.15px;top:717px;font-size:10px;line-height:11px;transform:scaleX(0.9386);-webkit-text-stroke:0.2px #000;">08/30/2025</span>
<span class="t" style="left:739.02px;top:717px;font-size:10px;line-height:11px;transform:scaleX(0.9386);-webkit-text-stroke:0.2px #000;">09/06/2025</span>
<span class="t" style="left:850.89px;top:717px;font-size:10px;line-height:11px;transform:scaleX(0.9386);-webkit-text-stroke:0.2px #000;">09/13/2025</span>
<span class="t" style="left:962.76px;top:717px;font-size:10px;line-height:11px;transform:scaleX(0.9386);-webkit-text-stroke:0.2px #000;">09/20/2025</span>
<span class="t" style="left:1074.63px;top:717px;font-size:10px;line-height:11px;transform:scaleX(0.9386);-webkit-text-stroke:0.2px #000;">09/27/2025</span>
<span class="t" style="left:1186.50px;top:717px;font-size:10px;line-height:11px;transform:scaleX(0.9386);-webkit-text-stroke:0.2px #000;">10/04/2025</span>
<span class="t" style="left:1298.37px;top:717px;font-size:10px;line-height:11px;transform:scaleX(0.9527);-webkit-text-stroke:0.2px #000;">10/11/2025</span>
<span class="t" style="left:1410.24px;top:717px;font-size:10px;line-height:11px;transform:scaleX(0.9386);-webkit-text-stroke:0.2px #000;">10/18/2025</span>
</section>
</body></html>
